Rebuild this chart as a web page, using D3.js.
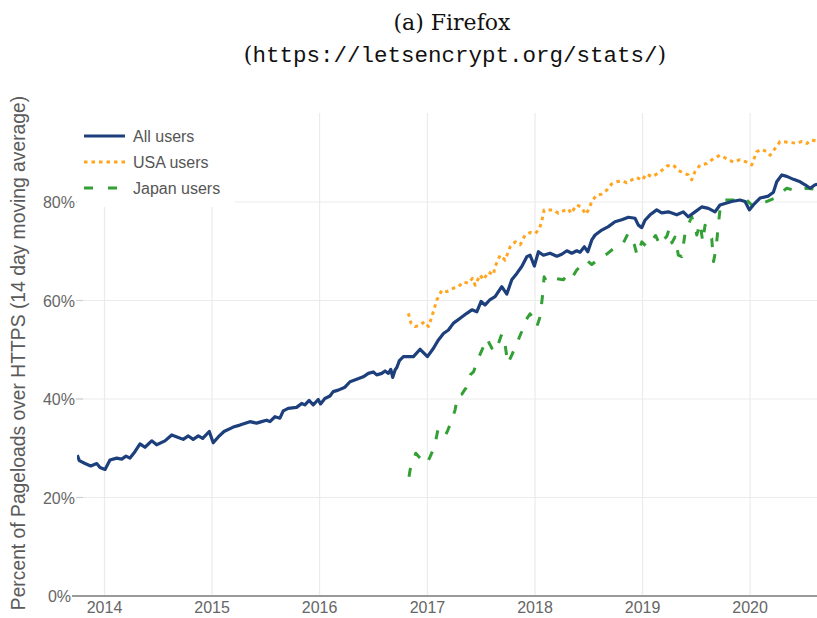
<!DOCTYPE html>
<html>
<head>
<meta charset="utf-8">
<script src="https://cdn.jsdelivr.net/npm/d3@7"></script>
<style>
  html, body { margin: 0; padding: 0; background: #fff; }
  svg { display: block; }
</style>
</head>
<body>
<svg id="chart" width="817" height="618"></svg>
<script>
// Share of page loads over HTTPS in Firefox (14-day moving average), in percent.
// Times are decimal years.
const allT = [2013.747, 2013.766, 2013.819, 2013.872, 2013.928, 2013.958, 2014.005, 2014.051, 2014.113, 2014.160,
  2014.200, 2014.237, 2014.283, 2014.330, 2014.376, 2014.439, 2014.485, 2014.562, 2014.625, 2014.686,
  2014.732, 2014.779, 2014.825, 2014.872, 2014.913, 2014.974, 2015.011, 2015.058, 2015.111, 2015.197,
  2015.259, 2015.352, 2015.414, 2015.461, 2015.507, 2015.538, 2015.585, 2015.631, 2015.662, 2015.708,
  2015.786, 2015.833, 2015.863, 2015.903, 2015.941, 2015.987, 2016.009, 2016.049, 2016.096, 2016.126,
  2016.173, 2016.235, 2016.282, 2016.344, 2016.405, 2016.452, 2016.498, 2016.530, 2016.576, 2016.607,
  2016.638, 2016.660, 2016.678, 2016.700, 2016.716, 2016.740, 2016.777, 2016.823, 2016.870, 2016.932,
  2017.000, 2017.056, 2017.102, 2017.149, 2017.195, 2017.242, 2017.304, 2017.366, 2017.413, 2017.459,
  2017.499, 2017.536, 2017.583, 2017.629, 2017.691, 2017.738, 2017.784, 2017.831, 2017.877, 2017.924,
  2017.954, 2017.994, 2018.032, 2018.078, 2018.140, 2018.203, 2018.249, 2018.296, 2018.342, 2018.388,
  2018.419, 2018.459, 2018.491, 2018.528, 2018.559, 2018.621, 2018.682, 2018.744, 2018.807, 2018.868,
  2018.930, 2018.961, 2018.993, 2019.023, 2019.070, 2019.132, 2019.178, 2019.240, 2019.318, 2019.379,
  2019.426, 2019.488, 2019.550, 2019.612, 2019.674, 2019.720, 2019.829, 2019.906, 2019.953, 2019.993,
  2020.030, 2020.092, 2020.169, 2020.216, 2020.247, 2020.294, 2020.340, 2020.402, 2020.464, 2020.510,
  2020.557, 2020.603, 2020.660];
const allUsers = [28.6, 27.5, 26.9, 26.4, 26.9, 26.1, 25.7, 27.6, 28.0, 27.8,
  28.4, 28.0, 29.3, 30.9, 30.2, 31.5, 30.7, 31.5, 32.7, 32.2,
  31.8, 32.5, 31.8, 32.5, 32.0, 33.4, 31.1, 32.3, 33.4, 34.3,
  34.7, 35.4, 35.1, 35.4, 35.7, 35.4, 36.4, 36.1, 37.6, 38.1,
  38.3, 39.1, 38.8, 39.7, 38.8, 39.9, 39.0, 40.1, 40.6, 41.5,
  41.8, 42.4, 43.5, 44.0, 44.5, 45.2, 45.5, 44.9, 45.2, 45.7,
  45.2, 46.0, 44.4, 45.9, 46.4, 47.8, 48.6, 48.6, 48.6, 50.1,
  48.6, 50.3, 52.0, 53.3, 54.0, 55.4, 56.4, 57.4, 58.1, 57.7,
  59.8, 59.1, 60.2, 60.8, 62.8, 61.3, 64.2, 65.5, 66.9, 68.9,
  69.2, 67.0, 69.9, 69.2, 69.6, 69.0, 69.4, 70.1, 69.6, 70.1,
  69.8, 70.9, 69.9, 72.3, 73.3, 74.3, 75.0, 76.0, 76.4, 76.9,
  76.7, 75.3, 74.8, 76.3, 77.4, 78.4, 77.8, 78.0, 77.4, 78.0,
  77.0, 78.0, 79.0, 78.7, 78.0, 79.4, 80.1, 80.4, 80.1, 78.4,
  79.4, 80.8, 81.2, 82.0, 84.1, 85.5, 85.2, 84.6, 84.1, 83.5,
  82.8, 83.5, 83.8];

const usaT = [2016.823, 2016.848, 2016.886, 2016.932, 2016.972, 2017.009, 2017.041, 2017.087, 2017.134, 2017.180,
  2017.242, 2017.288, 2017.335, 2017.381, 2017.418, 2017.443, 2017.490, 2017.520, 2017.567, 2017.613,
  2017.629, 2017.676, 2017.722, 2017.769, 2017.815, 2017.862, 2017.908, 2017.954, 2018.001, 2018.041,
  2018.069, 2018.085, 2018.110, 2018.171, 2018.218, 2018.264, 2018.310, 2018.335, 2018.388, 2018.428,
  2018.472, 2018.496, 2018.533, 2018.574, 2018.621, 2018.667, 2018.714, 2018.760, 2018.812, 2018.853,
  2018.900, 2018.946, 2018.993, 2019.039, 2019.086, 2019.132, 2019.178, 2019.225, 2019.286, 2019.333,
  2019.379, 2019.426, 2019.457, 2019.488, 2019.535, 2019.597, 2019.658, 2019.720, 2019.782, 2019.844,
  2019.906, 2019.969, 2020.015, 2020.061, 2020.108, 2020.154, 2020.185, 2020.232, 2020.278, 2020.371,
  2020.433, 2020.480, 2020.526, 2020.573, 2020.619, 2020.660];
const usaUsers = [57.4, 55.4, 54.7, 55.0, 55.7, 54.7, 56.7, 60.1, 62.1, 61.8,
  62.5, 62.8, 63.8, 63.5, 64.5, 63.1, 65.2, 64.2, 65.8, 65.2,
  66.9, 69.2, 68.2, 70.9, 71.9, 71.3, 73.3, 73.8, 73.6, 74.5,
  76.7, 78.4, 78.4, 78.4, 77.7, 78.2, 78.6, 77.7, 79.4, 79.0,
  77.5, 78.4, 80.3, 81.4, 81.6, 82.4, 83.7, 84.1, 84.3, 83.9,
  84.5, 85.0, 84.4, 85.7, 85.1, 85.7, 86.4, 87.3, 87.5, 86.4,
  85.9, 85.5, 84.5, 86.2, 87.5, 87.8, 88.8, 89.5, 88.8, 88.1,
  88.6, 88.1, 87.5, 90.2, 90.7, 90.2, 89.5, 90.9, 92.3, 92.1,
  91.9, 92.3, 91.9, 92.6, 92.3, 92.4];

const japanT = [2016.829, 2016.839, 2016.892, 2016.948, 2016.994, 2017.025, 2017.065, 2017.097, 2017.134, 2017.164,
  2017.190, 2017.227, 2017.257, 2017.283, 2017.320, 2017.357, 2017.397, 2017.428, 2017.474, 2017.520,
  2017.552, 2017.599, 2017.629, 2017.660, 2017.691, 2017.722, 2017.747, 2017.784, 2017.831, 2017.877,
  2017.914, 2017.954, 2017.985, 2018.017, 2018.048, 2018.069, 2018.085, 2018.110, 2018.156, 2018.187,
  2018.264, 2018.296, 2018.342, 2018.388, 2018.481, 2018.528, 2018.621, 2018.667, 2018.744, 2018.822,
  2018.865, 2018.884, 2018.924, 2018.949, 2018.993, 2019.039, 2019.121, 2019.163, 2019.193, 2019.225,
  2019.246, 2019.273, 2019.302, 2019.333, 2019.364, 2019.395, 2019.426, 2019.457, 2019.488, 2019.504,
  2019.535, 2019.560, 2019.581, 2019.612, 2019.643, 2019.660, 2019.684, 2019.704, 2019.720, 2019.751,
  2019.844, 2019.922, 2019.969, 2020.015, 2020.061, 2020.108, 2020.185, 2020.232, 2020.340, 2020.402,
  2020.526, 2020.603, 2020.660];
const japanUsers = [24.2, 25.6, 29.0, 27.6, 26.9, 28.3, 30.3, 33.7, 33.4, 32.4,
  33.7, 35.7, 37.8, 40.8, 41.0, 42.2, 44.9, 45.5, 48.3, 50.6,
  52.3, 50.3, 49.6, 51.3, 53.2, 51.0, 47.2, 48.9, 51.3, 53.7,
  56.0, 57.3, 56.4, 54.7, 56.7, 60.8, 64.8, 63.8, 64.2, 64.5,
  64.2, 65.2, 64.5, 66.2, 68.2, 67.3, 68.9, 69.4, 70.8, 71.7,
  73.6, 72.9, 71.3, 69.2, 71.9, 70.9, 73.2, 71.2, 72.3, 73.0,
  74.4, 71.7, 72.9, 69.2, 68.9, 73.6, 75.4, 77.0, 75.0, 73.3,
  75.7, 71.9, 75.3, 73.6, 72.6, 67.9, 70.6, 75.3, 78.4, 80.4,
  80.4, 80.1, 80.4, 79.4, 79.0, 79.7, 80.4, 80.8, 82.8, 82.4,
  82.8, 82.6, 82.8];

const yTicks = [0, 20, 40, 60, 80];
const yearTicks = [2014, 2015, 2016, 2017, 2018, 2019, 2020];
const seriesNames = ["All users", "USA users", "Japan users"];

// decimal year -> Date (UTC)
function toDate(t) {
  const y = Math.floor(t);
  const a = Date.UTC(y, 0, 1), b = Date.UTC(y + 1, 0, 1);
  return new Date(a + (t - y) * (b - a));
}
function zip(ts, vs) { return ts.map((t, i) => ({ date: toDate(t), v: vs[i] })); }

const series = [
  { name: seriesNames[0], data: zip(allT, allUsers), color: "#1d3f7c", width: 3.2, dash: null, legendDash: null },
  { name: seriesNames[1], data: zip(usaT, usaUsers), color: "#ffa51f", width: 3, dash: "3.5,4", legendDash: "3.5,4" },
  { name: seriesNames[2], data: zip(japanT, japanUsers), color: "#33a035", width: 3, dash: "9,13", legendDash: "9,15" }
];

const svg = d3.select("#chart");
const plot = { left: 77, right: 817, top: 113, bottom: 596 };

const x = d3.scaleUtc()
  .domain([new Date(Date.UTC(2014, 0, 1)), new Date(Date.UTC(2020, 0, 1))])
  .range([104.5, 750.1]);
const y = d3.scaleLinear().domain([0, 80]).range([596, 202]);

svg.append("defs").append("clipPath").attr("id", "plotclip")
  .append("rect")
  .attr("x", plot.left).attr("y", plot.top)
  .attr("width", plot.right - plot.left).attr("height", plot.bottom - plot.top + 4);

// gridlines
const grid = svg.append("g");
grid.selectAll("line.vx").data(yearTicks).join("line")
  .attr("x1", d => x(new Date(Date.UTC(d, 0, 1)))).attr("x2", d => x(new Date(Date.UTC(d, 0, 1))))
  .attr("y1", plot.top).attr("y2", plot.bottom)
  .attr("stroke", "#ebebeb").attr("stroke-width", 1.2);
grid.selectAll("line.hy").data(yTicks.filter(d => d > 0)).join("line")
  .attr("x1", 76).attr("x2", plot.right)
  .attr("y1", d => y(d)).attr("y2", d => y(d))
  .attr("stroke", "#ebebeb").attr("stroke-width", 1.2);
grid.selectAll("line.tk").data(yTicks.filter(d => d > 0)).join("line")
  .attr("x1", 76).attr("x2", 83)
  .attr("y1", d => y(d)).attr("y2", d => y(d))
  .attr("stroke", "#cfcfcf").attr("stroke-width", 1.2);

// baseline axis
svg.append("line")
  .attr("x1", 72).attr("x2", plot.right)
  .attr("y1", y(0)).attr("y2", y(0))
  .attr("stroke", "#9a9a9a").attr("stroke-width", 2.2);

// series lines
const line = d3.line().x(d => x(d.date)).y(d => y(d.v));
const lines = svg.append("g").attr("clip-path", "url(#plotclip)");
lines.selectAll("path").data(series.slice().reverse()).join("path")
  .attr("d", d => line(d.data))
  .attr("fill", "none")
  .attr("stroke", d => d.color)
  .attr("stroke-width", d => d.width)
  .attr("stroke-dasharray", d => d.dash)
  .attr("stroke-linejoin", "round");

// legend
const legend = svg.append("g");
legend.append("rect")
  .attr("x", 77).attr("y", plot.top).attr("width", 158).attr("height", 94)
  .attr("fill", "#fff");
const items = legend.selectAll("g.item").data(series).join("g")
  .attr("transform", (d, i) => `translate(0,${136 + i * 26})`);
items.append("line")
  .attr("x1", 84).attr("x2", 125)
  .attr("stroke", d => d.color).attr("stroke-width", d => d.width)
  .attr("stroke-dasharray", d => d.legendDash);
items.append("text")
  .attr("x", 133).attr("y", 6)
  .attr("font-family", "Liberation Sans, Arial, sans-serif")
  .attr("font-size", 16)
  .attr("fill", "#555")
  .text(d => d.name);

// y tick labels
svg.append("g").selectAll("text").data(yTicks).join("text")
  .attr("x", d => d === 0 ? 71 : 75)
  .attr("y", d => y(d) + 6)
  .attr("text-anchor", "end")
  .attr("font-family", "Liberation Sans, Arial, sans-serif")
  .attr("font-size", 16)
  .attr("fill", "#666")
  .text(d => d + "%");

// x tick labels
svg.append("g").selectAll("text").data(yearTicks).join("text")
  .attr("x", d => x(new Date(Date.UTC(d, 0, 1))))
  .attr("y", 613)
  .attr("text-anchor", "middle")
  .attr("font-family", "Liberation Sans, Arial, sans-serif")
  .attr("font-size", 16)
  .attr("fill", "#666")
  .text(d => d);

// y axis title
svg.append("text")
  .attr("transform", "translate(25,353) rotate(-90)")
  .attr("text-anchor", "middle")
  .attr("font-family", "Liberation Sans, Arial, sans-serif")
  .attr("font-size", 19.3)
  .attr("fill", "#5a5a5a")
  .text("Percent of Pageloads over HTTPS (14 day moving average)");

// caption
const cap = svg.append("g").attr("text-anchor", "middle").attr("fill", "#111");
cap.append("text")
  .attr("x", 452).attr("y", 30)
  .attr("font-family", "DejaVu Serif, serif")
  .attr("font-size", 22)
  .text("(a) Firefox");
const l2 = cap.append("text").attr("x", 455).attr("y", 62)
  .attr("font-family", "DejaVu Serif, serif").attr("font-size", 22);
l2.append("tspan").text("(");
l2.append("tspan").attr("font-family", "Liberation Mono, DejaVu Sans Mono, monospace")
  .attr("font-size", 22.5).text("https://letsencrypt.org/stats/");
l2.append("tspan").text(")");
</script>
</body>
</html>
